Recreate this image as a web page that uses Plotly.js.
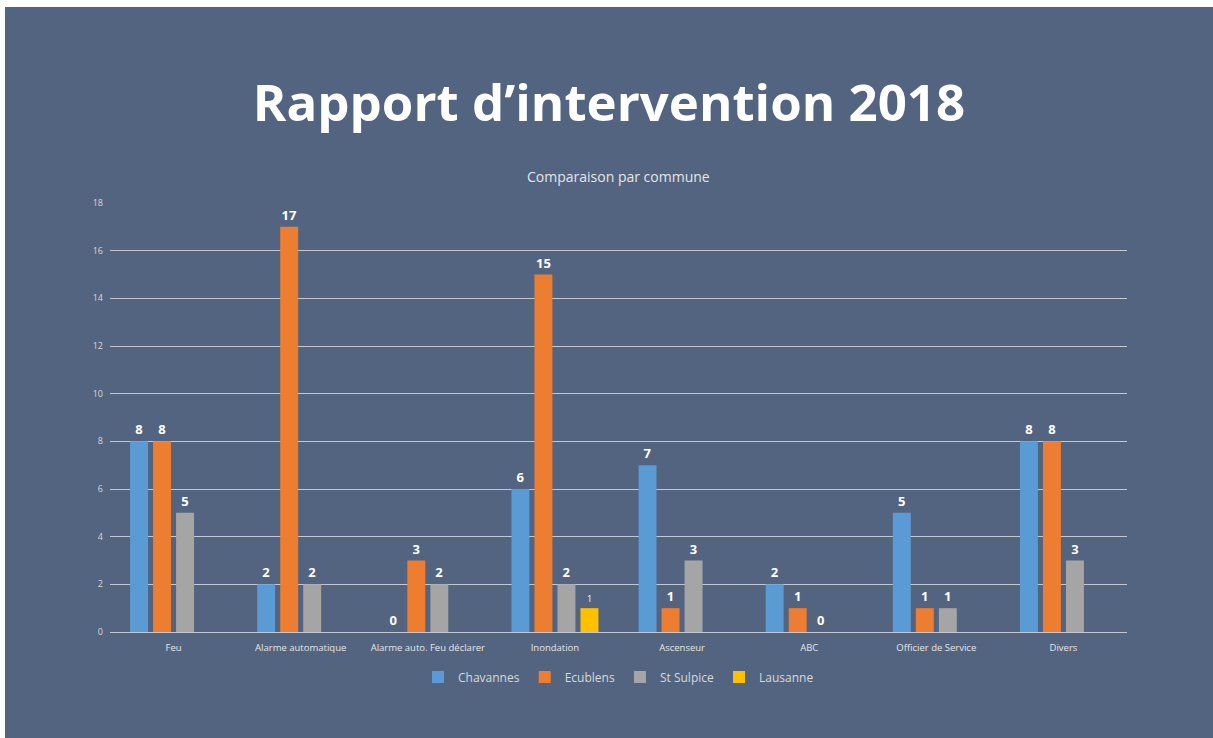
<!DOCTYPE html>
<html>
<head>
<meta charset="utf-8">
<script src="https://cdn.plot.ly/plotly-3.0.1.min.js"></script>
<style>
  html, body { margin: 0; padding: 0; background: #ffffff; width: 1213px; height: 738px; overflow: hidden; }
  #chart { position: absolute; left: 5px; top: 7px; width: 1208px; height: 731px; }
</style>
</head>
<body>
<div id="chart"></div>
<script>
const categories = ["Feu", "Alarme automatique", "Alarme auto. Feu déclarer", "Inondation", "Ascenseur", "ABC", "Officier de Service", "Divers"];
const chavannes = [8, 2, 0, 6, 7, 2, 5, 8];
const ecublens = [8, 17, 3, 15, 1, 1, 1, 8];
const stSulpice = [5, 2, 2, 2, 3, 0, 1, 3];
const lausanne = [null, null, null, 1, null, null, null, null];
const seriesNames = ["Chavannes", "Ecublens", "St Sulpice", "Lausanne"];
const seriesColors = ["#5b9bd5", "#ed7d31", "#a5a5a5", "#ffc000"];
const titleText = "Rapport d’intervention 2018";
const subtitleText = "Comparaison par commune";

const FONT = "'Open Sans', 'Noto Sans', sans-serif";
const BG = "#526480";

function mk(name, vals, color, labelSize) {
  return {
    type: "bar",
    name: name,
    x: categories,
    y: vals,
    marker: { color: color },
    text: vals.map(v => v === null ? "" : String(v)),
    texttemplate: "%{text}",
    textposition: "outside",
    cliponaxis: false,
    textfont: { family: FONT, size: labelSize, color: "#ffffff", weight: labelSize > 10 ? "bold" : "normal" },
    hoverinfo: "x+y+name"
  };
}

const data = [
  mk(seriesNames[0], chavannes, seriesColors[0], 13),
  mk(seriesNames[1], ecublens, seriesColors[1], 13),
  mk(seriesNames[2], stSulpice, seriesColors[2], 13),
  mk(seriesNames[3], lausanne, seriesColors[3], 9)
];

const layout = {
  width: 1208,
  height: 731,
  paper_bgcolor: BG,
  plot_bgcolor: BG,
  margin: { l: 105, r: 86, t: 196, b: 106 },
  barmode: "group",
  bargap: 0.276,
  bargroupgap: 0.22,
  font: { family: FONT, color: "#d9d9d9" },
  title: {
    text: titleText,
    font: { family: FONT, size: 51, color: "#ffffff", weight: "bold" },
    x: 0.5, xanchor: "center",
    yref: "container", y: 1 - 96 / 731, yanchor: "middle"
  },
  annotations: [{
    text: subtitleText,
    xref: "paper", yref: "paper",
    x: 0.5, y: 1 + (196 - 169) / 429,
    xanchor: "center", yanchor: "middle",
    showarrow: false,
    font: { family: FONT, size: 14, color: "#e6e6e6" }
  }],
  xaxis: {
    type: "category",
    showgrid: false,
    showline: true,
    linecolor: "#c3c8d1",
    linewidth: 1,
    ticks: "",
    tickfont: { family: FONT, size: 9.5, color: "#e6e6e6" },
    ticklabelstandoff: 7,
    zeroline: false
  },
  yaxis: {
    range: [0, 18],
    dtick: 2,
    showgrid: true,
    gridcolor: "#c3c8d1",
    gridwidth: 1,
    zeroline: true,
    zerolinecolor: "#c3c8d1",
    showline: false,
    ticks: "",
    tickfont: { family: FONT, size: 9, color: "#d9d9d9" },
    ticklabelstandoff: 6
  },
  legend: {
    orientation: "h",
    x: 0.5, xanchor: "center",
    y: -0.105, yanchor: "middle",
    font: { family: FONT, size: 12, color: "#d9d9d9" },
    bgcolor: "rgba(0,0,0,0)",
    itemwidth: 30
  },
  showlegend: true
};

Plotly.newPlot("chart", data, layout, { displayModeBar: false, staticPlot: true });
</script>
</body>
</html>
